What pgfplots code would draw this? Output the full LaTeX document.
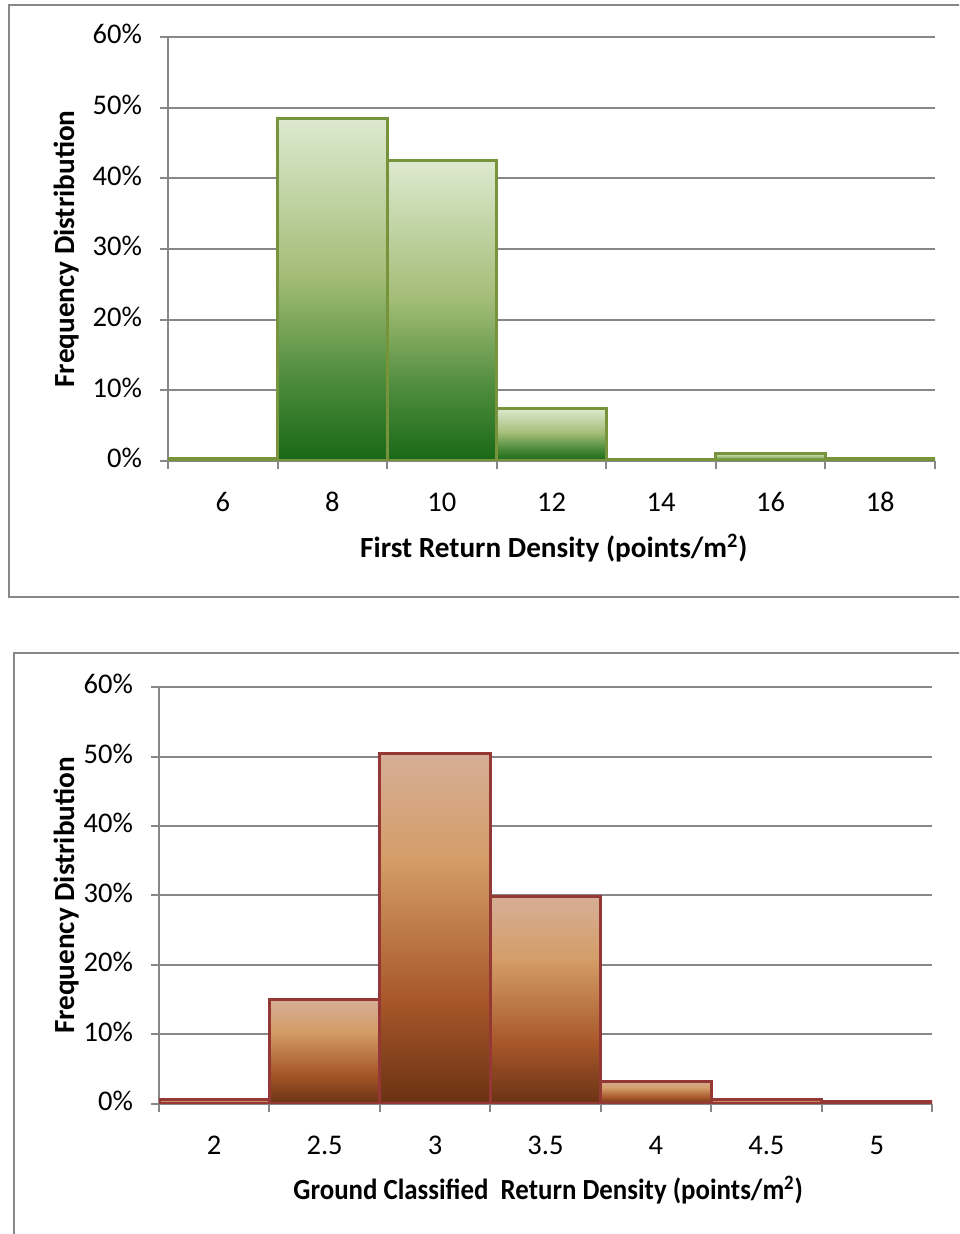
\documentclass[border=0pt]{standalone}
\usepackage{pgfplots}
\pgfplotsset{compat=1.18}
\usepackage{fontspec}
\setmainfont{Carlito}

\definecolor{gridgray}{HTML}{878787}
\definecolor{greenedge}{HTML}{77933C}
\definecolor{brownedge}{HTML}{953735}
\definecolor{gTop}{HTML}{DDE9CF}
\definecolor{gMid}{HTML}{A3BD77}
\definecolor{gLow}{HTML}{4F8D3C}
\definecolor{gBot}{HTML}{186818}
\definecolor{bTop}{HTML}{D6AE96}
\definecolor{bMid}{HTML}{D49D68}
\definecolor{bLow}{HTML}{A8582A}
\definecolor{bBot}{HTML}{6A3214}

% the bar fills the band 25bp..75bp of the shading
\pgfdeclareverticalshading{greenbar}{100bp}{color(0bp)=(gBot); color(25bp)=(gBot);
  color(37.5bp)=(gLow); color(52bp)=(gMid); color(75bp)=(gTop); color(100bp)=(gTop)}
\pgfdeclareverticalshading{brownbar}{100bp}{color(0bp)=(bBot); color(25bp)=(bBot);
  color(40bp)=(bLow); color(60bp)=(bMid); color(75bp)=(bTop); color(100bp)=(bTop)}

\pgfplotsset{
  hist/.style={
    scale only axis,
    anchor=south west,
    font=\fontsize{14.25pt}{17pt}\selectfont,
    xmin=-0.5, xmax=6.5,
    ymin=0, ymax=60,
    xtick={0,...,6},
    minor xtick={-0.5,0.5,...,6.5},
    ytick={0,10,...,60},
    yticklabels={0\%,10\%,20\%,30\%,40\%,50\%,60\%},
    axis x line*=bottom,
    axis y line*=left,
    axis line style={gridgray, line width=1pt},
    ymajorgrids,
    major grid style={gridgray, line width=1pt},
    tick align=outside,
    major tick length=4pt,
    minor tick length=4pt,
    major x tick style={draw=none},
    minor x tick style={gridgray, line width=1pt},
    major y tick style={gridgray, line width=1pt},
    typeset ticklabels with strut,
    xticklabel style={yshift=-6pt},
    yticklabel style={xshift=-5.5pt},
    label style={font=\fontsize{14.6pt}{17pt}\selectfont\bfseries},
  },
  % one \addplot per bar, so that each bar gets its own gradient
  gbar/.style={ybar, bar width=1, bar shift=0pt, draw=greenedge, line width=1.5pt,
    shade, shading=greenbar},
  bbar/.style={ybar, bar width=1, bar shift=0pt, draw=brownedge, line width=1.5pt,
    shade, shading=brownbar},
}

\begin{document}
\begin{tikzpicture}
\path[use as bounding box] (0pt,0pt) rectangle (479.5pt,617pt);
\clip (0pt,0pt) rectangle (479.5pt,617pt);
\draw[gridgray, line width=1pt] (4.5pt,318.5pt) rectangle (495pt,614.5pt);
\draw[gridgray, line width=1pt] (7pt,-10pt) rectangle (495pt,290.5pt);

\begin{axis}[hist,
    at={(84pt,386.5pt)}, width=383.5pt, height=212pt,
    xticklabels={6,8,10,12,14,16,18},
    xlabel={First Return Density (points/m\textsuperscript{2})},
    ylabel={Frequency Distribution},
    xlabel style={at={(axis description cs:0.5,0)}, anchor=center, xshift=1.2pt, yshift=-43.5pt},
    ylabel style={at={(axis description cs:-0.1317,0.5)}, anchor=center},
  ]
  \addplot[gbar] coordinates {(0,0.3)};
  \addplot[gbar] coordinates {(1,48.4)};
  \addplot[gbar] coordinates {(2,42.5)};
  \addplot[gbar] coordinates {(3,7.4)};
  \addplot[gbar] coordinates {(4,0.2)};
  \addplot[gbar] coordinates {(5,1.1)};
  \addplot[gbar] coordinates {(6,0.3)};
\end{axis}

\begin{axis}[hist,
    at={(79.5pt,65pt)}, width=386.5pt, height=208.5pt,
    xticklabels={2,2.5,3,3.5,4,4.5,5},
    xlabel={Ground Classified\ \ Return Density (points/m\textsuperscript{2})},
    ylabel={Frequency Distribution},
    xlabel style={at={(axis description cs:0.5,0)}, anchor=center, xscale=0.92, xshift=1.5pt, yshift=-43pt},
    ylabel style={at={(axis description cs:-0.119,0.5)}, anchor=center},
  ]
  \addplot[bbar] coordinates {(0,0.7)};
  \addplot[bbar] coordinates {(1,15.0)};
  \addplot[bbar] coordinates {(2,50.4)};
  \addplot[bbar] coordinates {(3,29.8)};
  \addplot[bbar] coordinates {(4,3.3)};
  \addplot[bbar] coordinates {(5,0.7)};
  \addplot[bbar] coordinates {(6,0.4)};
\end{axis}
\end{tikzpicture}
\end{document}
